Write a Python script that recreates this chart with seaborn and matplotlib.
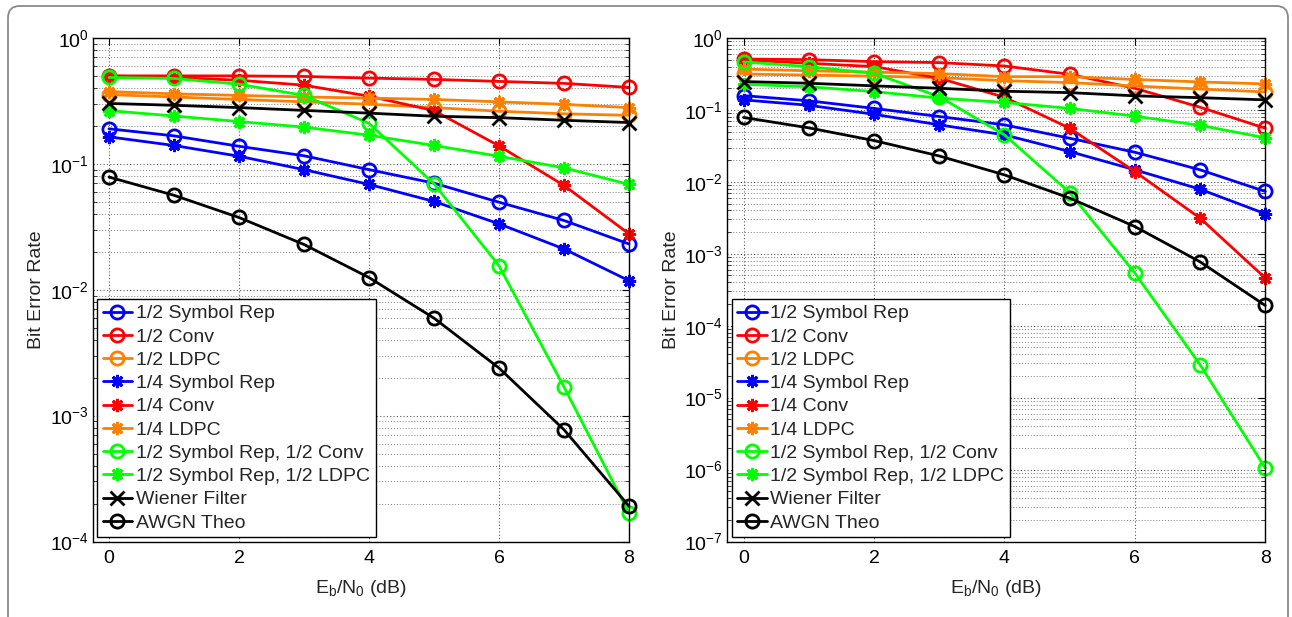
import numpy as np
import pandas as pd
import matplotlib
matplotlib.use("Agg")
import matplotlib.pyplot as plt
import matplotlib.ticker as mticker
from matplotlib.patches import FancyBboxPatch
import seaborn as sns

# ---------------- data ----------------
ebn0 = [0, 1, 2, 3, 4, 5, 6, 7, 8]
xticks = [0, 2, 4, 6, 8]

labels = ["1/2 Symbol Rep", "1/2 Conv", "1/2 LDPC",
          "1/4 Symbol Rep", "1/4 Conv", "1/4 LDPC",
          "1/2 Symbol Rep, 1/2 Conv", "1/2 Symbol Rep, 1/2 LDPC",
          "Wiener Filter", "AWGN Theo"]

# left panel
left_sym_rep_12 = [0.19, 0.167, 0.138, 0.116, 0.090, 0.0703, 0.0496, 0.0355, 0.0231]
left_conv_12 = [0.50, 0.50, 0.50, 0.495, 0.48, 0.469, 0.452, 0.436, 0.405]
left_ldpc_12 = [0.355, 0.34, 0.325, 0.311, 0.298, 0.28, 0.262, 0.25, 0.243]
left_sym_rep_14 = [0.164, 0.14, 0.115, 0.09, 0.0687, 0.0503, 0.0334, 0.0211, 0.0118]
left_conv_14 = [0.50, 0.485, 0.462, 0.422, 0.345, 0.265, 0.139, 0.0674, 0.0278]
left_ldpc_14 = [0.375, 0.36, 0.35, 0.34, 0.333, 0.325, 0.311, 0.297, 0.28]
left_rep_conv = [0.486, 0.477, 0.43, 0.35, 0.21, 0.0695, 0.0155, 0.00169, 0.000168]
left_rep_ldpc = [0.265, 0.24, 0.217, 0.196, 0.169, 0.14, 0.115, 0.093, 0.0687]
left_wiener = [0.302, 0.292, 0.28, 0.266, 0.253, 0.239, 0.233, 0.222, 0.213]
left_awgn = [0.0786, 0.0563, 0.0375, 0.0229, 0.0125, 0.00595, 0.00239, 0.000773, 0.000191]

# right panel
right_sym_rep_12 = [0.158, 0.134, 0.105, 0.081, 0.062, 0.0404, 0.0258, 0.0147, 0.00735]
right_conv_12 = [0.51, 0.50, 0.469, 0.455, 0.408, 0.313, 0.20, 0.109, 0.0557]
right_ldpc_12 = [0.315, 0.305, 0.295, 0.282, 0.255, 0.24, 0.215, 0.195, 0.178]
right_sym_rep_14 = [0.138, 0.116, 0.087, 0.062, 0.045, 0.0264, 0.0147, 0.0079, 0.0036]
right_conv_14 = [0.495, 0.445, 0.40, 0.276, 0.15, 0.0557, 0.0139, 0.00313, 0.00046]
right_ldpc_14 = [0.37, 0.35, 0.335, 0.32, 0.29, 0.29, 0.265, 0.245, 0.23]
right_rep_conv = [0.465, 0.40, 0.323, 0.153, 0.045, 0.0071, 0.000539, 2.87e-5, 1.05e-6]
right_rep_ldpc = [0.228, 0.21, 0.18, 0.146, 0.127, 0.105, 0.082, 0.061, 0.041]
right_wiener = [0.248, 0.235, 0.216, 0.2, 0.182, 0.174, 0.157, 0.148, 0.138]
right_awgn = [0.0786, 0.0563, 0.0375, 0.0229, 0.0125, 0.00595, 0.00239, 0.000773, 0.000191]

left_series = [left_sym_rep_12, left_conv_12, left_ldpc_12, left_sym_rep_14, left_conv_14,
               left_ldpc_14, left_rep_conv, left_rep_ldpc, left_wiener, left_awgn]
right_series = [right_sym_rep_12, right_conv_12, right_ldpc_12, right_sym_rep_14, right_conv_14,
                right_ldpc_14, right_rep_conv, right_rep_ldpc, right_wiener, right_awgn]

# ---------------- style ----------------
BLUE, RED, ORANGE, GREEN, BLACK = "#0000FF", "#FF0000", "#FF7F00", "#00FF00", "#000000"
ASTER = (8, 2, 0)
colors = [BLUE, RED, ORANGE, BLUE, RED, ORANGE, GREEN, GREEN, BLACK, BLACK]
markers = ["o", "o", "o", ASTER, ASTER, ASTER, "o", ASTER, "x", "o"]

sns.set_style("white")
plt.rcParams["font.family"] = ["Liberation Sans", "DejaVu Sans"]
plt.rcParams["mathtext.fontset"] = "custom"
plt.rcParams["mathtext.rm"] = "Liberation Sans"
plt.rcParams["mathtext.it"] = "Liberation Sans:italic"
plt.rcParams["mathtext.bf"] = "Liberation Sans:bold"
plt.rcParams["axes.unicode_minus"] = True

W, H = 1292, 617
fig = plt.figure(figsize=(W / 100, H / 100), dpi=100)
fig.patch.set_facecolor("white")

frame = FancyBboxPatch((8 / W, -0.2), (1288 - 8) / W, 1.2 - 6 / H,
                       boxstyle="round,pad=0,rounding_size=0.009",
                       mutation_aspect=W / H, transform=fig.transFigure,
                       fill=False, ec="#8a8a8a", lw=1.3)
fig.add_artist(frame)

ax_l = fig.add_axes([92.7 / W, 1 - 541.5 / H, (629 - 92.7) / W, (541.5 - 38) / H])
ax_r = fig.add_axes([727.3 / W, 1 - 541.5 / H, (1265.3 - 727.3) / W, (541.5 - 38) / H])

FS = 14


def draw(ax, series, ymin):
    ax.set_yscale("log")
    for lab, vals, c, m in zip(labels, series, colors, markers):
        df = pd.DataFrame({"EbN0": ebn0, "BER": vals})
        sns.lineplot(data=df, x="EbN0", y="BER", ax=ax, color=c, marker=m,
                     markersize=9.5, markeredgecolor=c, markerfacecolor="none",
                     markeredgewidth=2.0, linewidth=2.0, label=lab, clip_on=False)
    ax.set_xlim(-0.25, 8)
    ax.set_ylim(ymin, 1)
    ax.set_xticks(xticks)
    ax.xaxis.set_major_formatter(mticker.FormatStrFormatter("%d"))
    ax.yaxis.set_major_locator(mticker.LogLocator(base=10, numticks=20))
    ax.yaxis.set_minor_locator(mticker.LogLocator(base=10, subs=np.arange(2, 10), numticks=20))
    ax.yaxis.set_minor_formatter(mticker.NullFormatter())
    ax.grid(True, which="major", axis="both", linestyle=(0, (1, 2)), color="0.35", linewidth=0.8)
    ax.grid(True, which="minor", axis="y", linestyle=(0, (1, 2)), color="0.5", linewidth=0.7)
    ax.tick_params(axis="both", which="major", direction="in", top=True, right=True,
                   length=5, width=0.8, labelsize=FS, colors="black")
    ax.tick_params(axis="x", which="major", pad=6)
    ax.tick_params(axis="y", which="major", pad=3)
    ax.tick_params(axis="y", which="minor", direction="in", left=True, right=True,
                   length=3, width=0.6)
    for s in ax.spines.values():
        s.set_visible(True)
        s.set_color("black")
        s.set_linewidth(1.0)
    ax.set_xlabel(r"E$_{\mathregular{b}}$/N$_{\mathregular{0}}$ (dB)", fontsize=FS, labelpad=8)
    ax.set_ylabel("Bit Error Rate", fontsize=FS, labelpad=3)
    leg = ax.legend(loc="lower left", bbox_to_anchor=(0.008, 0.008), borderaxespad=0,
                    fontsize=FS, frameon=True, fancybox=False, framealpha=1,
                    edgecolor="black", handlelength=1.5, handletextpad=0.2,
                    labelspacing=0.29, borderpad=0.3)
    leg.get_frame().set_linewidth(1.0)
    ax.set_facecolor("white")


draw(ax_l, left_series, 1e-4)
draw(ax_r, right_series, 1e-7)

fig.savefig("out.png", dpi=100, facecolor="white")
